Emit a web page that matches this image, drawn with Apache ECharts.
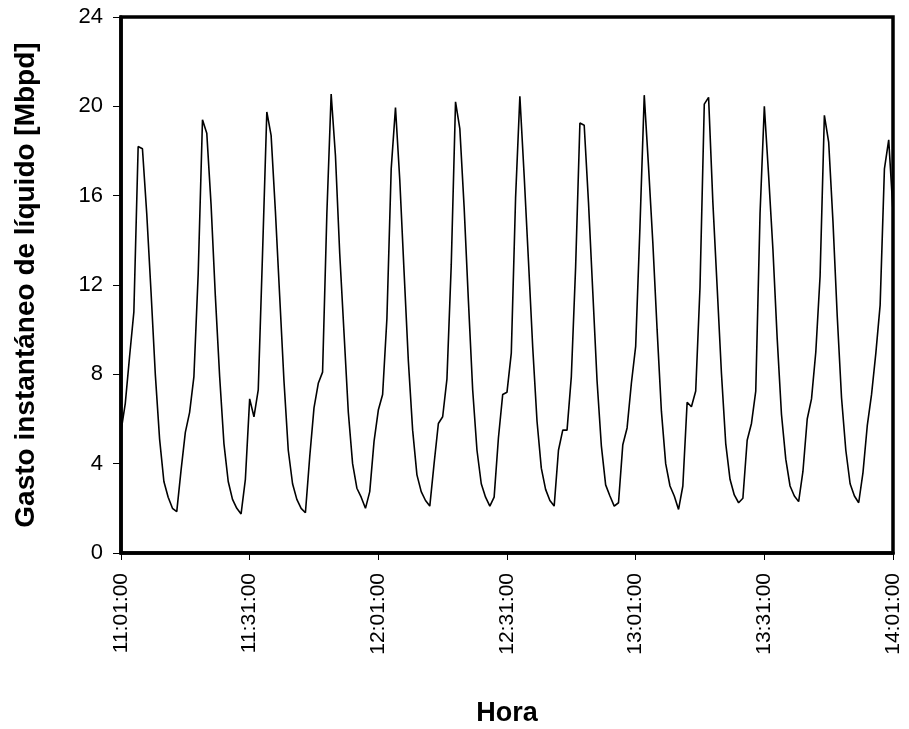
<!DOCTYPE html>
<html>
<head>
<meta charset="utf-8">
<script src="https://cdn.jsdelivr.net/npm/echarts@6/dist/echarts.min.js"></script>
<style>
html,body{margin:0;padding:0;background:#fff;}
#chart{width:909px;height:729px;}
</style>
</head>
<body>
<div id="chart"></div>
<script>
// minutes after 11:01:00, one sample per minute
const tickLabels = ['11:01:00','11:31:00','12:01:00','12:31:00','13:01:00','13:31:00','14:01:00'];
const yTicks = [0,4,8,12,16,20,24];
const gasto = [
5.45,6.7,8.8,10.8,18.2,18.1,15.2,11.7,8.0,5.1,
3.2,2.5,2.0,1.85,3.7,5.4,6.3,7.9,12.5,19.4,
18.8,15.6,11.5,7.9,4.9,3.2,2.4,2.0,1.75,3.3,
6.9,6.1,7.3,13.4,19.75,18.7,15.3,11.5,7.7,4.6,
3.1,2.4,2.0,1.8,4.3,6.5,7.6,8.1,15.2,20.55,
17.8,13.4,9.85,6.3,4.0,2.9,2.5,2.0,2.75,5.0,
6.4,7.1,10.5,17.2,19.95,16.7,12.6,8.6,5.5,3.5,
2.75,2.35,2.1,4.0,5.8,6.1,7.8,12.9,20.2,19.0,
15.5,11.3,7.3,4.6,3.1,2.5,2.1,2.5,5.15,7.1,
7.2,8.95,15.9,20.45,16.9,13.1,9.2,5.9,3.8,2.85,
2.35,2.1,4.6,5.5,5.5,7.9,12.8,19.25,19.15,15.7,
11.7,7.7,4.8,3.05,2.55,2.1,2.25,4.85,5.6,7.6,
9.25,14.6,20.5,17.3,13.9,10.0,6.35,4.0,3.0,2.55,
1.95,3.0,6.75,6.55,7.25,11.9,20.1,20.4,15.7,11.9,
8.05,4.9,3.3,2.6,2.25,2.45,5.05,5.8,7.25,15.2,
20.0,16.9,13.6,9.6,6.2,4.2,3.0,2.55,2.3,3.65,
6.0,6.9,9.0,12.4,19.6,18.4,14.85,10.6,6.95,4.6,
3.1,2.55,2.25,3.6,5.7,7.1,8.95,11.1,17.2,18.5,
15.3
];
const minutes = gasto.map((_, i) => i);
const seriesData = minutes.map((m, i) => [m, gasto[i]]);

const chart = echarts.init(document.getElementById('chart'), null, {renderer:'canvas'});
const font = 'Liberation Sans, Arial, sans-serif';
chart.setOption({
  animation: false,
  backgroundColor: '#fff',
  grid: {left:121, right:16, top:17, bottom:176, containLabel:false, outerBoundsMode:'none',
    show:true, borderColor:'#000', borderWidth:3.5, backgroundColor:'transparent'},
  xAxis: {
    type:'value', min:0, max:180, interval:30,
    name:'Hora', nameLocation:'middle', nameGap:147,
    nameTextStyle:{fontFamily:font, fontSize:27, fontWeight:'bold', color:'#000'},
    axisLine:{show:true, onZero:false, lineStyle:{color:'#000', width:3.5}},
    axisTick:{show:true, length:7, lineStyle:{color:'#000', width:1}},
    axisLabel:{rotate:90, margin:20, fontFamily:font, fontSize:21, color:'#000',
      formatter:(v)=> tickLabels[Math.round(v/30)] || ''},
    splitLine:{show:false}
  },
  yAxis: {
    type:'value', min:0, max:24, interval:4,
    name:'Gasto instantáneo de líquido [Mbpd]', nameLocation:'middle', nameGap:81,
    nameTextStyle:{fontFamily:font, fontSize:28, fontWeight:'bold', color:'#000'},
    axisLine:{show:true, lineStyle:{color:'#000', width:3.5}},
    axisTick:{show:true, length:8, lineStyle:{color:'#000', width:1}},
    axisLabel:{margin:18, fontFamily:font, fontSize:22, color:'#000',
      formatter:(v)=> yTicks.indexOf(v) >= 0 ? String(v) : ''},
    splitLine:{show:false}
  },
  series: [{
    type:'line', data: seriesData, showSymbol:false, symbol:'none',
    lineStyle:{color:'#000', width:1.6}, z:3
  }]
});
</script>
</body>
</html>
